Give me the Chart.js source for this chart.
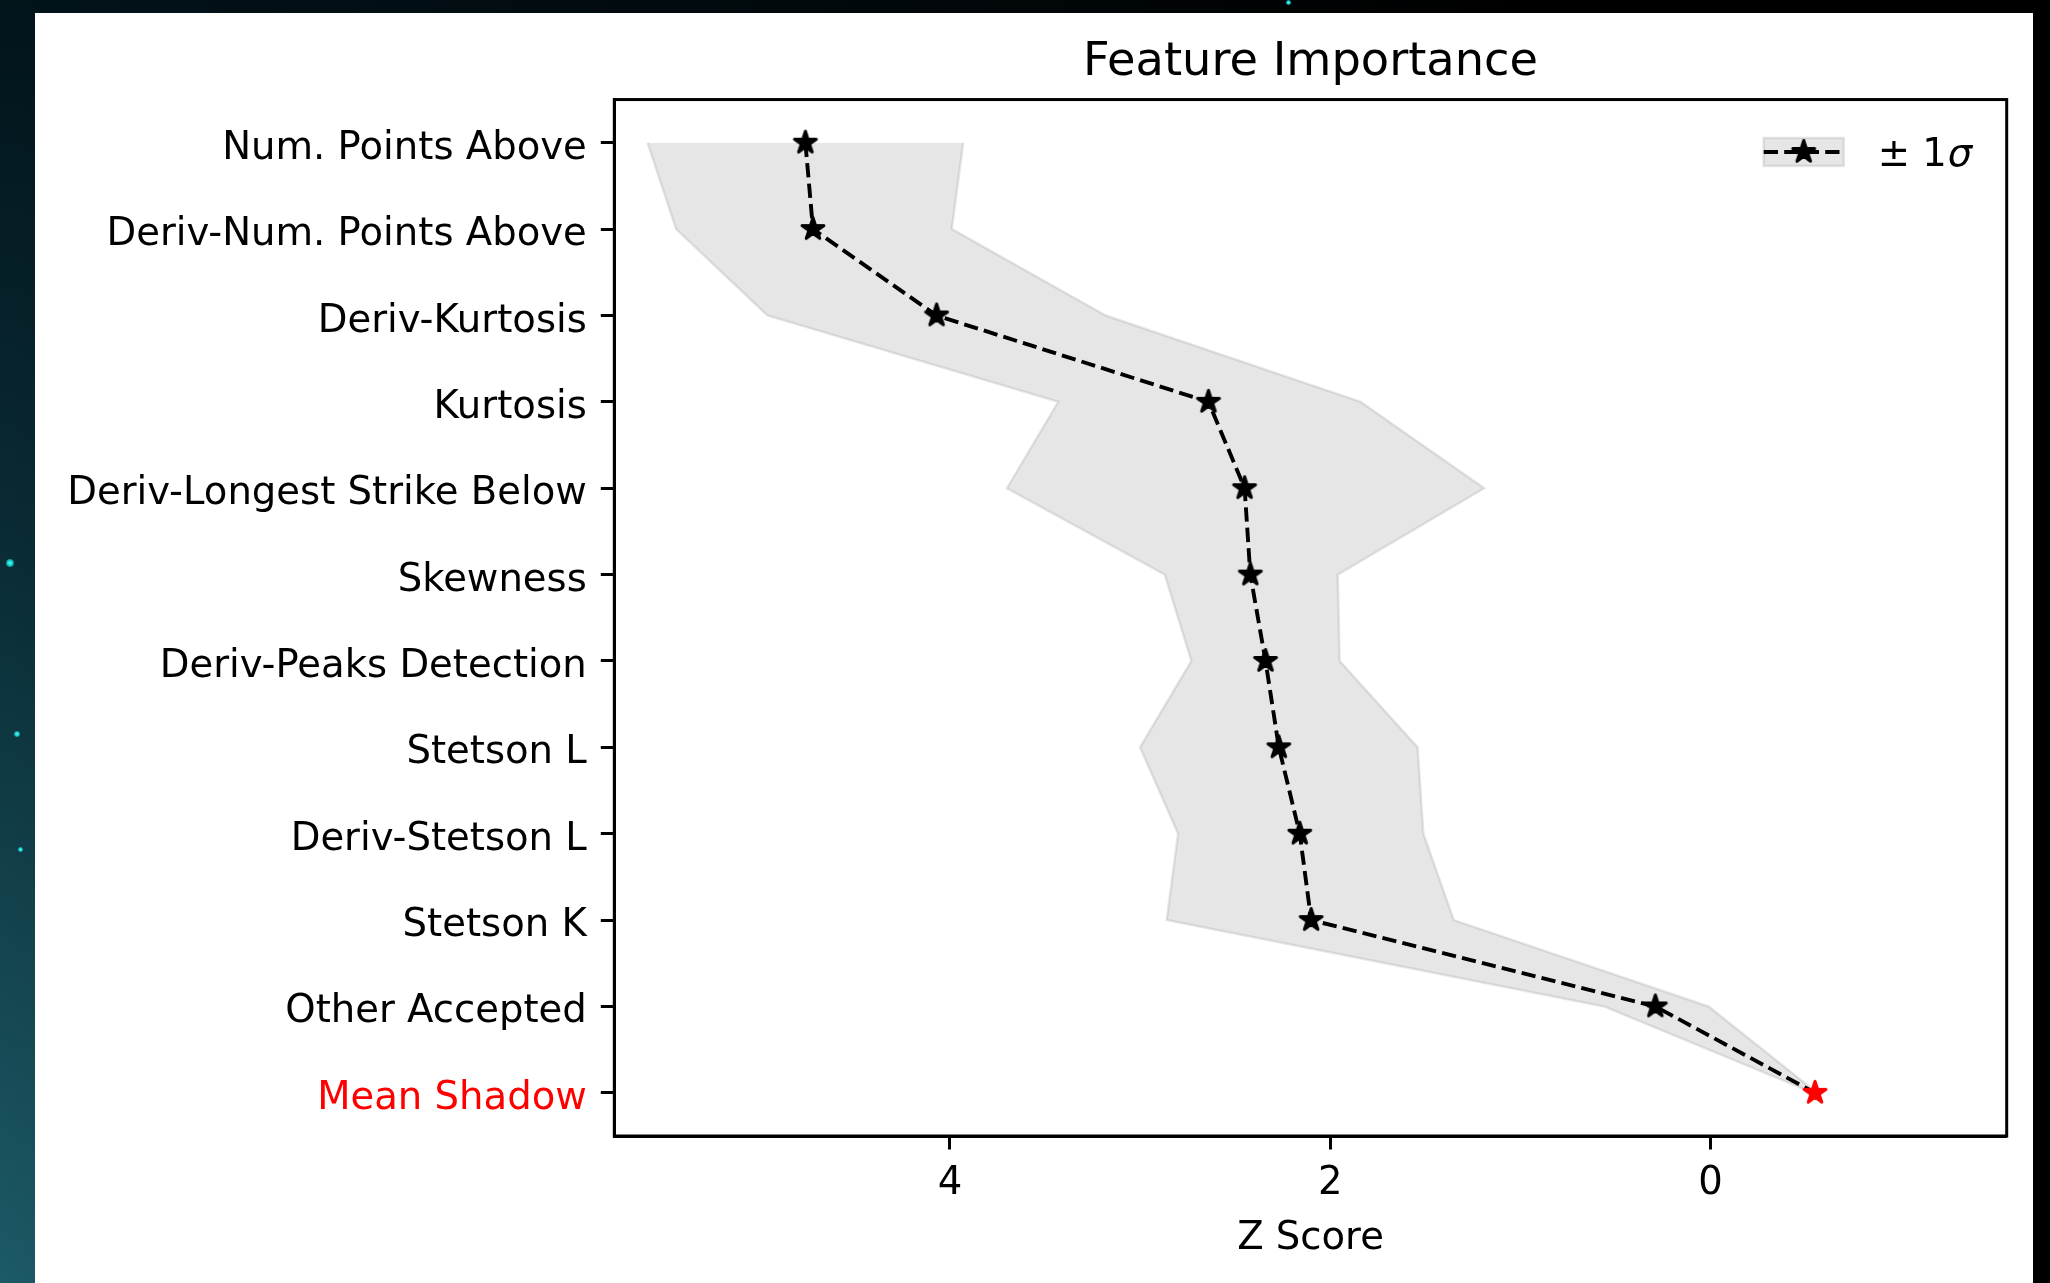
<!DOCTYPE html>
<html>
<head>
<meta charset="utf-8">
<title>Feature Importance</title>
<script src="https://cdn.jsdelivr.net/npm/chart.js@4.4.0/dist/chart.umd.min.js"></script>
<style>
  html, body { margin: 0; padding: 0; }
  body {
    width: 2050px;
    height: 1283px;
    overflow: hidden;
    position: relative;
    background:
      linear-gradient(to right, rgba(0, 0, 0, 0) 0px, #000 1500px),
      linear-gradient(to bottom, #02131a 0%, #0a2d37 45%, #1c5a66 100%);
  }
  #panel {
    position: absolute;
    left: 35px;
    top: 13px;
    width: 1998px;
    height: 1270px;
    background: #fff;
  }
  .dot {
    position: absolute;
    width: 8px;
    height: 8px;
    border-radius: 50%;
    background: radial-gradient(circle, #6ff 0%, #1cc 45%, rgba(0, 200, 200, 0) 100%);
  }
</style>
</head>
<body>
<div class="dot" style="left:6px; top:559px;"></div>
<div class="dot" style="left:14px; top:731px; width:6px; height:6px;"></div>
<div class="dot" style="left:18px; top:847px; width:5px; height:5px;"></div>
<div class="dot" style="left:1286px; top:0px; width:5px; height:5px;"></div>
<div id="panel"><canvas id="featureChart" width="1998" height="1270"></canvas></div>
<script>
const categories = [
  "Num. Points Above",
  "Deriv-Num. Points Above",
  "Deriv-Kurtosis",
  "Kurtosis",
  "Deriv-Longest Strike Below",
  "Skewness",
  "Deriv-Peaks Detection",
  "Stetson L",
  "Deriv-Stetson L",
  "Stetson K",
  "Other Accepted",
  "Mean Shadow",
];

// mean Z score per feature
const zMean = [4.76, 4.72, 4.07, 2.64, 2.45, 2.42, 2.34, 2.27, 2.16, 2.10, 0.29, -0.55];
// +1 sigma / -1 sigma edges of the shaded band
const zUpper = [5.59, 5.44, 4.96, 3.43, 3.70, 2.87, 2.73, 3.00, 2.80, 2.86, 0.56, -0.54];
const zLower = [3.93, 3.99, 3.18, 1.84, 1.19, 1.96, 1.95, 1.54, 1.51, 1.35, 0.01, -0.56];

const xTickValues = [4, 2, 0];
const xMin = -1.558;
const xMax = 5.765;

const FONT = "'DejaVu Sans', sans-serif";
const bandColor = "rgba(128, 128, 128, 0.2)";

// filled star like matplotlib's '*' marker
function makeStar(color) {
  const size = 32;
  const c = document.createElement("canvas");
  c.width = size;
  c.height = size;
  const g = c.getContext("2d");
  const R = 11.5, r = R * 0.382;
  g.beginPath();
  for (let i = 0; i < 10; i++) {
    const rad = i % 2 ? r : R;
    const a = -Math.PI / 2 + (i * Math.PI) / 5;
    g.lineTo(size / 2 + rad * Math.cos(a), size / 2 + rad * Math.sin(a));
  }
  g.closePath();
  g.fillStyle = color;
  g.strokeStyle = color;
  g.lineWidth = 3;
  g.lineJoin = "round";
  g.fill();
  g.stroke();
  return c;
}
const blackStar = makeStar("#000");
const redStar = makeStar("#ff0000");

// full box around the plot area
const frameBox = {
  id: "frameBox",
  afterDraw(chart) {
    const { ctx, chartArea: a } = chart;
    ctx.save();
    ctx.strokeStyle = "#000";
    ctx.lineWidth = 3;
    ctx.strokeRect(a.left, a.top, a.right - a.left, a.bottom - a.top);
    ctx.restore();
  },
};

// legend in the upper right: band patch + dashed line + star, "± 1σ"
const sigmaLegend = {
  id: "sigmaLegend",
  afterDraw(chart) {
    const { ctx, chartArea: a } = chart;
    const x0 = a.right - 243, y0 = a.top + 38.4;
    const w = 80, h = 28, cy = y0 + h / 2;
    ctx.save();
    ctx.fillStyle = bandColor;
    ctx.fillRect(x0, y0, w, h);
    ctx.strokeStyle = bandColor;
    ctx.lineWidth = 2.5;
    ctx.strokeRect(x0, y0, w, h);
    ctx.strokeStyle = "#000";
    ctx.lineWidth = 3.9;
    ctx.setLineDash([14.3, 6.2]);
    ctx.beginPath();
    ctx.moveTo(x0, cy);
    ctx.lineTo(x0 + w, cy);
    ctx.stroke();
    ctx.setLineDash([]);
    ctx.drawImage(blackStar, x0 + w / 2 - 16, cy - 16);
    ctx.fillStyle = "#000";
    ctx.textBaseline = "middle";
    ctx.textAlign = "left";
    ctx.font = "38.6px " + FONT;
    const tx = x0 + w + 34;
    ctx.fillText("\u00b1 1", tx, cy + 4);
    const wPart = ctx.measureText("\u00b1 1").width;
    ctx.font = "italic 38.6px " + FONT;
    ctx.fillText("\u03c3", tx + wPart + 1, cy + 4);
    ctx.restore();
  },
};

const ctx = document.getElementById("featureChart").getContext("2d");
const featureChart = new Chart(ctx, {
  type: "line",
  data: {
    labels: categories,
    datasets: [
      {
        label: "Z Score",
        data: zMean,
        borderColor: "#000",
        borderWidth: 3.9,
        borderDash: [14.3, 6.2],
        pointStyle: (c) => (c.dataIndex === categories.length - 1 ? redStar : blackStar),
        pointRadius: 12,
        fill: false,
        tension: 0,
      },
      {
        label: "lower",
        data: zLower,
        borderColor: bandColor,
        backgroundColor: bandColor,
        borderWidth: 2.5,
        pointRadius: 0,
        fill: false,
        tension: 0,
      },
      {
        label: "upper",
        data: zUpper,
        borderColor: bandColor,
        backgroundColor: bandColor,
        borderWidth: 2.5,
        pointRadius: 0,
        fill: "-1",
        tension: 0,
      },
    ],
  },
  options: {
    indexAxis: "y",
    responsive: false,
    animation: false,
    layout: { padding: { left: 0, right: 26.3, top: 0, bottom: 0 } },
    plugins: {
      legend: { display: false },
      tooltip: { enabled: false },
      title: {
        display: true,
        text: "Feature Importance",
        fullSize: false,
        color: "#000",
        font: { family: FONT, size: 46.3, weight: "normal" },
        padding: { top: 22, bottom: 9 },
      },
    },
    scales: {
      x: {
        type: "linear",
        reverse: true,
        min: xMin,
        max: xMax,
        afterBuildTicks: (s) => {
          s.ticks = xTickValues.map((v) => ({ value: v }));
        },
        afterFit: (s) => {
          s.height = 147;
        },
        grid: { drawOnChartArea: false, tickLength: 13.5, tickWidth: 3, tickColor: "#000", color: "#000" },
        border: { display: true, color: "#000", width: 3 },
        ticks: { color: "#000", font: { family: FONT, size: 38.6 }, padding: 11, maxRotation: 0 },
        title: {
          display: true,
          text: "Z Score",
          color: "#000",
          font: { family: FONT, size: 38.6 },
          padding: { top: 0, bottom: 21 },
        },
      },
      y: {
        type: "category",
        offset: true,
        afterFit: (s) => {
          s.width = 579.3;
        },
        grid: { offset: false, drawOnChartArea: false, tickLength: 13.5, tickWidth: 3, tickColor: "#000", color: "#000" },
        border: { display: true, color: "#000", width: 3 },
        ticks: {
          autoSkip: false,
          padding: 14,
          labelOffset: 6,
          font: { family: FONT, size: 38.6 },
          color: (c) => (c.index === categories.length - 1 ? "#ff0000" : "#000"),
        },
      },
    },
  },
  plugins: [frameBox, sigmaLegend],
});
</script>
</body>
</html>
